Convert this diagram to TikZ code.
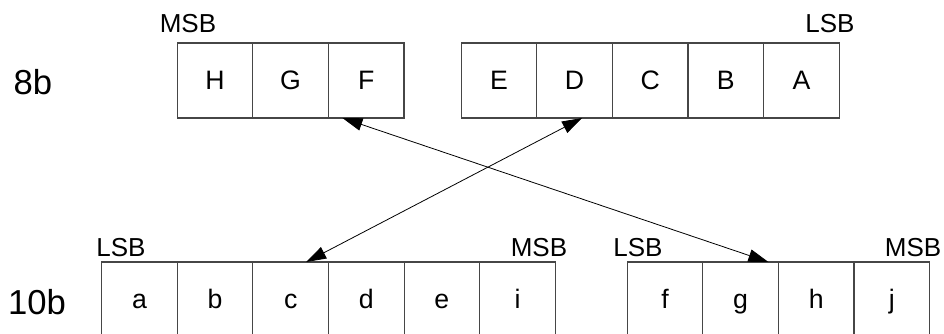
\documentclass[tikz,border=0pt]{standalone}
\usepackage{fontspec}
\setmainfont{Liberation Sans}
\usepackage{tikz}
\usetikzlibrary{arrows.meta,positioning}
\definecolor{boxline}{RGB}{70,70,70}

\begin{document}
\begin{tikzpicture}[
  x=0.75pt,y=-0.75pt,
  cell/.style={draw=boxline,line width=0.8pt,minimum width=56.7pt,
               minimum height=56.25pt,inner sep=0pt,outer sep=0pt,
               text height=14.5pt,text depth=1.5pt,
               font=\fontsize{20}{22}\selectfont},
  tag/.style={font=\fontsize{19.5}{22}\selectfont,inner sep=0pt},
  width/.style={font=\fontsize{26}{28}\selectfont,inner sep=0pt},
  link/.style={line width=0.6pt,{Triangle[length=15pt,width=9.5pt]}-{Triangle[length=15pt,width=9.5pt]}}]
\useasboundingbox (0,0) rectangle (944,333);

% ---- 8b word ----
\node[width] (w8) at (33,82) {8b};
\node[cell] (H) at (215,80.5) {H};
\node[cell,right=0pt of H] (G) {G};
\node[cell,right=0pt of G] (F) {F};
\node[cell] (E) at (499,80.5) {E};
\node[cell,right=0pt of E] (D) {D};
\node[cell,right=0pt of D] (C) {C};
\node[cell,right=0pt of C] (B) {B};
\node[cell,right=0pt of B] (A) {A};
\node[tag] (msb8) at (188,24) {MSB};
\node[tag] (lsb8) at (830,24) {LSB};

% ---- 10b word ----
\node[width] (w10) at (37,302) {10b};
\node[cell] (a) at (139.5,299.5) {a};
\node[cell,right=0pt of a] (b) {b};
\node[cell,right=0pt of b] (c) {c};
\node[cell,right=0pt of c] (d) {d};
\node[cell,right=0pt of d] (e) {e};
\node[cell,right=0pt of e] (i) {i};
\node[cell] (f) at (665,299.5) {f};
\node[cell,right=0pt of f] (g) {g};
\node[cell,right=0pt of g] (h) {h};
\node[cell,right=0pt of h] (j) {j};
\node[tag] (lsbA) at (121,248) {LSB};
\node[tag] (msbA) at (539,248) {MSB};
\node[tag] (lsbB) at (638,248) {LSB};
\node[tag] (msbB) at (913,248) {MSB};

% ---- mapping ----
\draw[link] ([xshift=10.5pt]F.south west) -- ([xshift=-7.5pt]g.north east);
\draw[link] ([xshift=5.6pt]D.south) -- ([xshift=11.6pt]c.north);
\end{tikzpicture}
\end{document}
